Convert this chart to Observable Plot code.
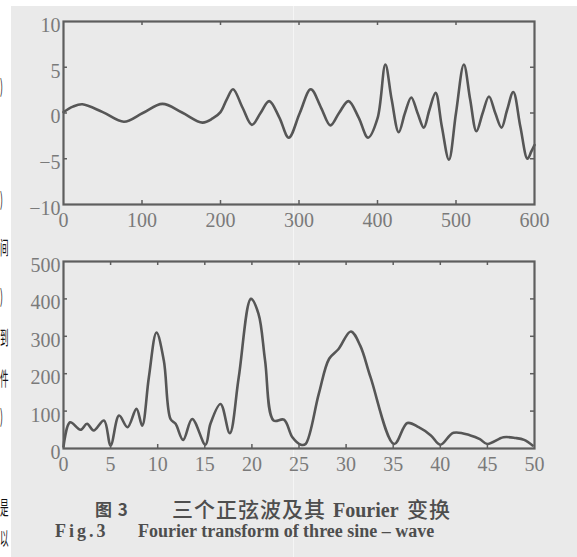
<!DOCTYPE html>
<html><head><meta charset="utf-8">
<script src="https://cdn.jsdelivr.net/npm/d3@7"></script>
<script src="https://cdn.jsdelivr.net/npm/@observablehq/plot@0.6"></script>
<style>
html,body{margin:0;padding:0;background:#fff;}
#wrap{position:relative;width:577px;height:557px;overflow:hidden;background:#fff;}
#bg{position:absolute;left:11px;top:6px;right:0;bottom:0;background:#eaeaea;}
#fold{position:absolute;left:293px;top:6px;width:1px;bottom:0;background:#f5f5f5;}
.stray{position:absolute;font-family:"Noto Sans CJK SC",sans-serif;font-size:19px;color:#111;line-height:1;transform:scaleX(0.45);transform-origin:0 0;}
.cap{position:absolute;white-space:nowrap;color:#4e4e4e;line-height:1;}
.zh{font-family:"Noto Sans CJK SC",sans-serif;font-size:21px;letter-spacing:1px;font-weight:500;}
.en{font-family:"Liberation Serif",serif;font-weight:bold;font-size:18px;}
svg{position:absolute;left:0;}
</style></head><body>
<div id="wrap"><div id="bg"></div><div id="fold"></div></div>
<script>
// ---- tick labels ----
const topXTicks = [0, 100, 200, 300, 400, 500, 600];
const topYTicks = [-10, -5, 0, 5, 10];
const botXTicks = [0, 5, 10, 15, 20, 25, 30, 35, 40, 45, 50];
const botYTicks = [0, 100, 200, 300, 400, 500];

// ---- top panel: three sine waves ----
const topX = [0, 12, 24, 50, 77, 101, 126, 151, 177, 190, 200, 208, 216, 228, 240, 251, 262, 275, 287, 301, 315, 328, 340, 351, 363, 376, 388, 400, 410, 418, 427, 435, 443, 451, 459, 466, 474, 482, 491, 500, 510, 518, 526, 534, 542, 550, 558, 565, 573, 582, 591, 596, 600];
const topY = [0.1, 0.7, 0.95, 0.1, -0.95, 0, 1.0, 0.05, -1.05, -0.6, 0.1, 1.5, 2.6, 0.6, -1.3, 0, 1.3, -0.5, -2.7, 0, 2.6, 0.6, -1.35, 0, 1.3, -0.5, -2.7, -0.6, 5.3, 1.5, -2.1, 0, 1.7, 0, -1.6, 0.3, 2.2, -1.5, -5.1, 0, 5.3, 1.5, -2.0, 0, 1.8, 0, -1.6, 0.3, 2.3, -1.5, -5.0, -4.2, -3.5];

// ---- bottom panel: Fourier magnitude ----
const botX = [0, 0.7, 1.8, 2.5, 3.2, 4.3, 5.0, 5.9, 6.8, 7.75, 8.35, 9.06, 9.87, 10.65, 11.36, 11.9, 12.7, 13.66, 15.07, 15.6, 16.67, 17.65, 18.6, 19.9, 20.7, 21.4, 22.3, 23.4, 24.3, 25.2, 25.7, 27.1, 28.2, 29.2, 30.5, 31.5, 32.6, 35.1, 36.5, 37.7, 39.0, 40.0, 41.4, 43.2, 44.2, 45.0, 46.7, 48.0, 48.9, 49.8];
const botY = [5, 70, 50, 66, 48, 75, 8, 88, 57, 106, 61, 190, 310, 235, 79, 66, 23, 79, 10, 66, 119, 41, 190, 400, 360, 235, 75, 77, 30, 10, 12, 146, 240, 266, 313, 275, 190, 12, 68, 57, 35, 10, 42, 35, 25, 12, 30, 28, 23, 8];

// ---- caption texts ----
const captionZh = ["图 3", "三个正弦波及其", "Fourier", "变换"];
const captionEn = ["Fig.3", "Fourier transform of three sine – wave"];
const strayChars = [")", ")", "间", ")", "到", "件", ")", "是", "以"];

const ink = "#565656";
const frameColor = "#5e5e5e";
const W = 577, ML = 63, MR = 43;

function panel(xs, ys, xTicks, yTicks, height, mt, mb) {
  const innerH = height - mt - mb;
  const innerW = W - ML - MR;
  const xDom = [xTicks[0], xTicks[xTicks.length - 1]];
  const yDom = [yTicks[0], yTicks[yTicks.length - 1]];
  const inX = xTicks.filter(v => v > xDom[0] && v < xDom[1]);
  const inY = yTicks.filter(v => v > yDom[0] && v < yDom[1]);
  const pts = xs.map((x, i) => ({x, y: ys[i]}));
  return Plot.plot({
    width: W, height, marginTop: mt, marginBottom: mb, marginLeft: ML, marginRight: MR,
    style: {background: "transparent", fontFamily: "'Liberation Serif', serif", fontSize: "20px", color: "#7a7a7a", overflow: "visible"},
    x: {domain: xDom}, y: {domain: yDom},
    marks: [
      Plot.line(pts, {x: "x", y: "y", curve: "catmull-rom", stroke: ink, strokeWidth: 2.6}),
      Plot.ruleX(inX, {x: d => d, insetTop: innerH - 4, stroke: frameColor, strokeWidth: 1.5}),
      Plot.ruleX(inX, {x: d => d, insetBottom: innerH - 4, stroke: frameColor, strokeWidth: 1.5}),
      Plot.ruleY(inY, {y: d => d, insetRight: innerW - 4, stroke: frameColor, strokeWidth: 1.5}),
      Plot.ruleY(inY, {y: d => d, insetLeft: innerW - 4, stroke: frameColor, strokeWidth: 1.5}),
      Plot.frame({stroke: frameColor, strokeWidth: 2.2}),
      Plot.axisX(xTicks, {tickSize: 0, tickPadding: 8, label: null, fontSize: 20}),
      Plot.axisY(yTicks, {tickSize: 0, tickPadding: 3, label: null, dy: 4, fontSize: 20})
    ]
  });
}

const wrap = document.getElementById("wrap");
const p1 = panel(topX, topY, topXTicks, topYTicks, 230, 21, 26);
p1.style.top = "0px";
wrap.appendChild(p1);
const p2 = panel(botX, botY, botXTicks, botYTicks, 244, 31, 26);
p2.style.top = "230px";
wrap.appendChild(p2);

// captions
const capLayout = [
  {t: captionZh[0], cls: "zh", x: 95, y: 500, style: "font-weight:700;letter-spacing:1px;font-size:17px"},
  {t: captionZh[1], cls: "zh", x: 172, y: 498},
  {t: captionZh[2], cls: "en", x: 333, y: 500, style: "font-size:20px"},
  {t: captionZh[3], cls: "zh", x: 407, y: 498},
  {t: captionEn[0], cls: "en", x: 55, y: 522, style: "letter-spacing:3px"},
  {t: captionEn[1], cls: "en", x: 138, y: 522}
];
for (const c of capLayout) {
  const d = document.createElement("div");
  d.className = "cap " + c.cls;
  d.textContent = c.t;
  d.style.left = c.x + "px";
  d.style.top = c.y + "px";
  if (c.style) d.style.cssText += c.style;
  wrap.appendChild(d);
}

// text fragments at the left edge of the scanned page
const strayTop = [75, 188, 237, 285, 327, 368, 405, 497, 528];
strayChars.forEach((t, i) => {
  const d = document.createElement("div");
  d.className = "stray";
  d.textContent = t;
  d.style.left = "0px";
  d.style.top = strayTop[i] + "px";
  wrap.appendChild(d);
});
</script>
</body></html>
